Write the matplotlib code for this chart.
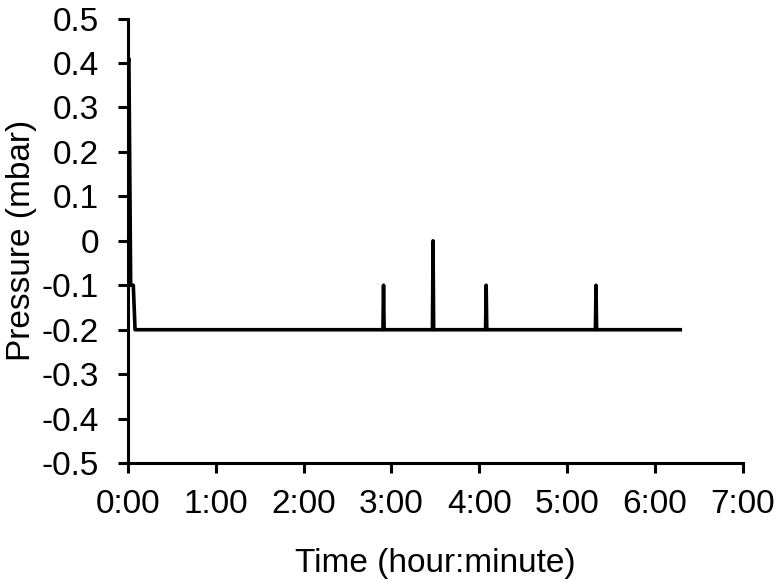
import numpy as np
import matplotlib.pyplot as plt

plt.rcParams['font.family'] = ['Liberation Sans', 'DejaVu Sans']

# time in hours, pressure in mbar
time_h = [0.0, 0.01, 0.03, 0.06, 0.08,
          2.903, 2.91, 2.917,
          3.467, 3.474, 3.481,
          4.072, 4.079, 4.086,
          5.323, 5.33, 5.337,
          6.31]
pressure = [0.4, 0.41, -0.1, -0.1, -0.2,
            -0.2, -0.1, -0.2,
            -0.2, 0.0, -0.2,
            -0.2, -0.1, -0.2,
            -0.2, -0.1, -0.2,
            -0.2]
xtick_labels = ['0:00', '1:00', '2:00', '3:00', '4:00', '5:00', '6:00', '7:00']
ytick_values = [-0.5, -0.4, -0.3, -0.2, -0.1, 0, 0.1, 0.2, 0.3, 0.4, 0.5]

fig = plt.figure(figsize=(7.76, 5.81), dpi=100)
ax = fig.add_axes([0.165, 0.203, 0.792, 0.765])

ax.plot(time_h, pressure, color='black', linewidth=2.6,
        solid_joinstyle='round', solid_capstyle='butt')

ax.set_xlim(0, 7)
ax.set_ylim(-0.5, 0.5)
ax.set_xticks(np.arange(0, 8, 1))
ax.set_xticklabels(xtick_labels)
ax.set_yticks(ytick_values)
ax.set_yticklabels([str(v) for v in ytick_values])

for side in ['top', 'right']:
    ax.spines[side].set_visible(False)
for side in ['left', 'bottom']:
    ax.spines[side].set_linewidth(2.2)

ax.tick_params(axis='both', labelsize=24, width=2.2, length=7, direction='out')
ax.tick_params(axis='x', pad=12)
ax.tick_params(axis='y', pad=14)

ax.set_xlabel('Time (hour:minute)', fontsize=24, labelpad=20)
ax.set_ylabel('Pressure (mbar)', fontsize=24, labelpad=3)

fig.savefig('out.png', dpi=100)
